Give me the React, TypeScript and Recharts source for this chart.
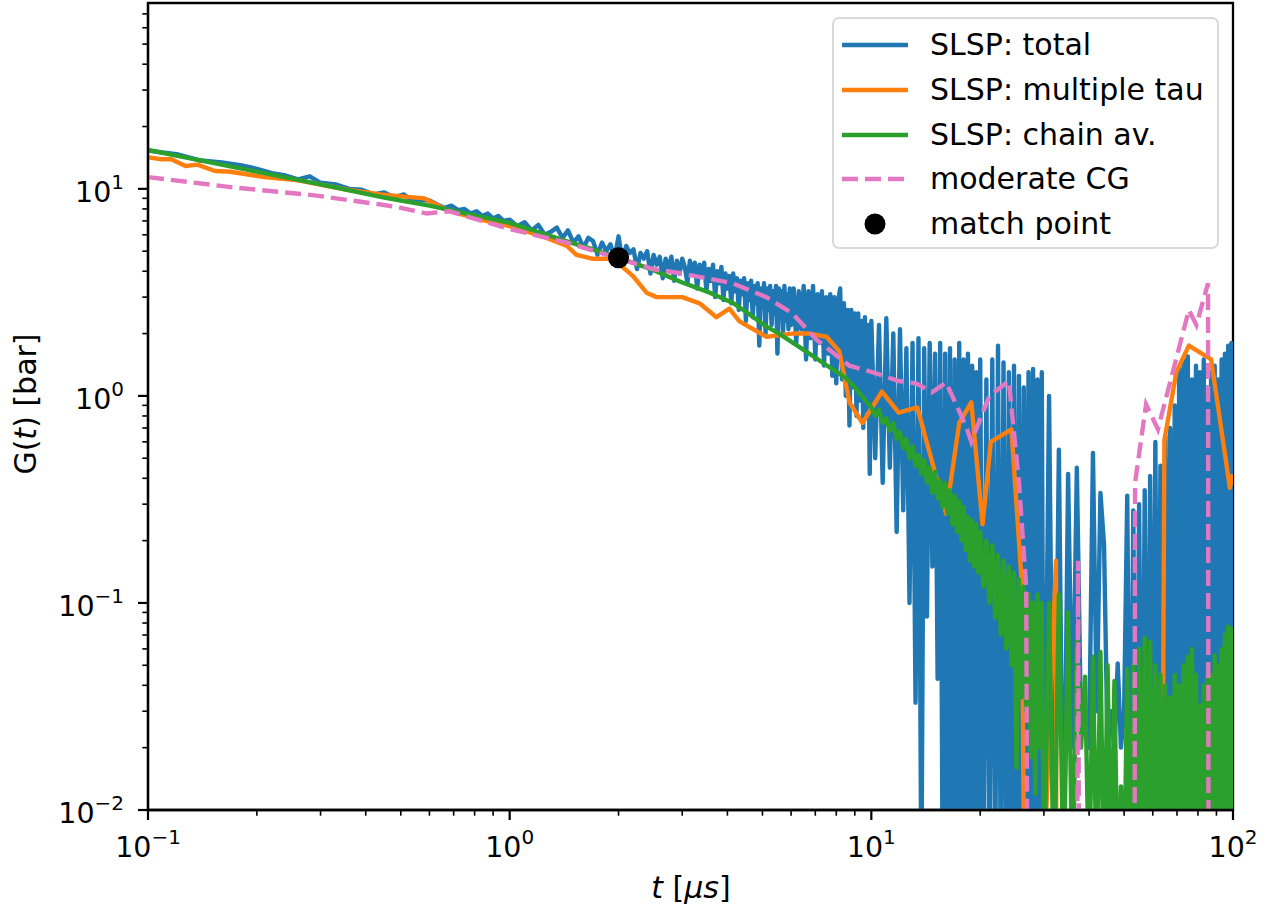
import React from 'react'
import {
  ComposedChart,
  Line,
  Scatter,
  XAxis,
  YAxis,
  Legend,
  ReferenceArea,
} from 'recharts'

// t [us], G(t) [bar] pairs
const slspTotal: [number, number][] = [
  [0.1, 15.3], [0.12, 14.7], [0.14, 13.7], [0.16, 13.4], [0.18, 13.0], [0.2, 12.5], [0.22, 11.9], [0.24, 11.6],
  [0.26, 11.1], [0.28, 11.5], [0.3, 10.7], [0.33, 10.5], [0.36, 10.0], [0.39, 9.9], [0.42, 9.4], [0.45, 9.6],
  [0.48, 9.1], [0.51, 9.4], [0.54, 8.7], [0.57, 8.8], [0.6, 8.8], [0.63, 8.4], [0.66, 8.1], [0.69, 8.3],
  [0.72, 7.9], [0.75, 8.0], [0.78, 7.6], [0.81, 7.8], [0.84, 7.4], [0.87, 7.6], [0.9, 7.2], [0.93, 7.4],
  [0.96, 7.0], [1.0, 7.1],
  [1.05, 6.6], [1.1, 6.9], [1.15, 6.3], [1.2, 6.7], [1.25, 6.0], [1.3, 6.2], [1.35, 6.5], [1.4, 5.8],
  [1.45, 6.3], [1.5, 5.5], [1.55, 5.9], [1.6, 5.2], [1.65, 5.8], [1.7, 5.6], [1.75, 4.8], [1.8, 5.5],
  [1.85, 5.0], [1.9, 5.4], [1.95, 4.6], [2.0, 5.9], [2.05, 4.5], [2.1, 5.3], [2.15, 4.9], [2.2, 5.1],
  [2.25, 4.1], [2.3, 4.9], [2.35, 4.6], [2.4, 5.0], [2.45, 3.9], [2.5, 4.8], [2.55, 4.3], [2.6, 4.7],
  [2.65, 3.7], [2.7, 4.6], [2.75, 4.1], [2.8, 4.7], [2.85, 3.6], [2.9, 4.5], [2.95, 3.9], [3.0, 4.6],
  [3.05, 4.2], [3.1, 3.5], [3.15, 4.5], [3.2, 3.9], [3.25, 4.4], [3.3, 3.3], [3.35, 4.3], [3.4, 3.8],
  [3.45, 4.4], [3.5, 3.2], [3.55, 4.1], [3.6, 3.6], [3.65, 4.3], [3.7, 3.0], [3.75, 4.0], [3.8, 3.5],
  [3.85, 4.2], [3.9, 2.9], [3.95, 3.9], [4.0, 3.3], [4.05, 3.8], [4.1, 2.8], [4.15, 3.9], [4.2, 3.2],
  [4.25, 3.7], [4.3, 2.6], [4.35, 3.6], [4.4, 3.1], [4.45, 3.7], [4.5, 2.3], [4.55, 3.5], [4.6, 2.9],
  [4.65, 3.6], [4.7, 2.4], [4.75, 3.4], [4.8, 2.8], [4.85, 3.5], [4.9, 1.75], [4.95, 3.3], [5.0, 2.7],
  [5.05, 3.5], [5.1, 2.0], [5.15, 3.3], [5.2, 2.6], [5.25, 3.4], [5.3, 2.2], [5.35, 3.2], [5.4, 2.5],
  [5.45, 3.4], [5.5, 1.6], [5.55, 3.3], [5.6, 2.4], [5.65, 3.2], [5.7, 2.0], [5.75, 3.4], [5.8, 2.3],
  [5.85, 3.1], [5.9, 2.1], [5.95, 3.3], [6.0, 2.2],
  [6.1, 3.3], [6.2, 1.8], [6.3, 3.2], [6.4, 2.1], [6.5, 3.4], [6.6, 1.5], [6.7, 3.2], [6.8, 1.9],
  [6.9, 3.4], [7.0, 1.5], [7.1, 3.1], [7.2, 1.8], [7.3, 3.2], [7.4, 1.4], [7.5, 3.0], [7.6, 1.6],
  [7.7, 3.1], [7.8, 1.25], [7.9, 3.0], [8.0, 1.15], [8.1, 2.9], [8.2, 3.3], [8.3, 1.2], [8.4, 2.8],
  [8.5, 1.0], [8.6, 2.6], [8.7, 0.72], [8.8, 2.6], [8.9, 1.1], [9.0, 2.5], [9.1, 0.8], [9.2, 2.5],
  [9.3, 0.95], [9.4, 2.3], [9.5, 0.7], [9.6, 2.4], [9.7, 0.85], [9.8, 2.2], [9.9, 0.42], [10.0, 2.3],
  [10.25, 0.5], [10.5, 2.2], [10.75, 0.38], [11.0, 2.37], [11.25, 0.45], [11.5, 2.0], [11.75, 0.22], [12.0, 2.1],
  [12.25, 0.28], [12.5, 1.7], [12.75, 0.1], [13.0, 1.8], [13.25, 0.033], [13.5, 1.9], [13.75, 0.004], [14.0, 1.7],
  [14.25, 0.086], [14.5, 1.8], [14.75, 0.15], [15.0, 1.6], [15.25, 0.043], [15.5, 1.8], [15.75, 0.004], [16.0, 1.6],
  [16.25, 0.004], [16.5, 1.7], [16.75, 0.004], [17.0, 1.5], [17.25, 0.004], [17.5, 1.8], [17.75, 0.004], [18.0, 1.5],
  [18.25, 0.004], [18.5, 1.6], [18.75, 0.004], [19.0, 1.4], [19.25, 0.004], [19.5, 1.3], [19.75, 0.004], [20.0, 1.5],
  [20.4, 0.004], [20.8, 1.2], [21.2, 0.004], [21.6, 1.5], [22.0, 0.004], [22.4, 1.75], [22.8, 0.004], [23.2, 1.45],
  [23.6, 0.004], [24.0, 1.3], [24.4, 0.004], [24.8, 1.4], [25.2, 0.004], [25.6, 1.25], [26.0, 0.004], [26.4, 1.1],
  [26.8, 0.004], [27.2, 1.3], [27.6, 0.004], [28.0, 1.35], [28.4, 0.004], [28.8, 1.2], [29.2, 0.004], [29.6, 1.3],
  [30.0, 0.004],
  [31, 1.0], [32, 0.004], [33, 0.55], [34, 0.004], [35, 0.42], [36, 0.02], [37, 0.45], [38, 0.025],
  [39, 0.03], [40, 0.02], [41, 0.53], [42, 0.03], [43, 0.34], [44, 0.19], [45, 0.02], [46, 0.03],
  [47, 0.02], [48, 0.051], [49, 0.02], [50, 0.03], [51, 0.33], [52, 0.004], [53, 0.28], [54, 0.004],
  [55, 0.3], [56, 0.004], [57, 0.35], [58, 0.004], [59, 0.41], [60, 0.004], [61, 0.6], [62, 0.004],
  [63, 0.46], [64, 0.004], [65, 0.64], [66, 0.004], [67, 0.7], [68, 0.004], [69, 0.9], [70, 0.004],
  [71, 1.35], [72, 0.004], [73, 1.5], [74, 0.004], [75, 1.55], [76, 0.004], [77, 1.2], [78, 0.004],
  [79, 1.4], [80, 0.004], [81, 1.3], [82, 0.004], [83, 1.5], [84, 0.004], [85, 1.1], [86, 0.004],
  [87, 1.3], [88, 0.004], [89, 1.4], [90, 0.004], [91, 1.2], [92, 0.004], [93, 1.5], [94, 0.004],
  [95, 1.6], [96, 0.004], [97, 1.75], [98, 0.004], [99, 1.8], [100, 0.004],
]

const multipleTau: [number, number][] = [
  [0.1, 14.2], [0.109, 13.9], [0.116, 13.9], [0.127, 12.9], [0.137, 13.1], [0.153, 12.2], [0.169, 12.1],
  [0.21, 11.4], [0.26, 11.0], [0.356, 9.9], [0.44, 9.4], [0.58, 9.0], [0.67, 7.9], [0.83, 7.1], [1.0, 6.6],
  [1.23, 5.9], [1.44, 5.3], [1.53, 4.8], [1.69, 4.6], [1.89, 4.6], [2.05, 4.2], [2.19, 3.8], [2.39, 3.15],
  [2.55, 3.0], [3.0, 3.0], [3.35, 2.8], [3.73, 2.4], [4.05, 2.64], [4.32, 2.29], [5.13, 1.93], [6.05, 2.0],
  [6.75, 2.0], [7.52, 1.93], [8.16, 1.64], [8.7, 0.93], [9.45, 0.74], [10.7, 1.05], [11.9, 0.83], [13.4, 0.88],
  [16.1, 0.27], [17.5, 0.74], [18.9, 0.93], [20.3, 0.24], [21.4, 0.6], [24.4, 0.69], [26.1, 0.12], [26.6, 0.001],
  [30.0, 0.005], [32.4, 0.16], [32.5, 0.001], [63.7, 0.001], [64.1, 0.035], [64.6, 0.61], [69.7, 1.3],
  [75.5, 1.75], [87.0, 1.5], [98.0, 0.36], [100, 0.42],
]

const chainAv: [number, number][] = [
  [0.1, 15.4], [0.15, 13.4], [0.2, 12.1], [0.3, 10.5], [0.45, 9.08], [0.6, 8.3], [0.8, 7.45], [1.0, 6.85],
  [1.2, 6.19], [1.44, 5.58], [1.7, 5.1], [2.0, 4.65], [2.5, 4.05], [3.0, 3.53], [3.5, 3.2], [4.13, 2.82],
  [4.5, 2.55], [5.13, 2.16], [5.5, 2.02], [6.3, 1.73], [7.0, 1.53], [7.5, 1.41], [8.0, 1.31], [8.5, 1.22],
  [9.0, 1.1], [9.4, 1.0], [10.0, 0.88],
  [10.25, 0.8], [10.5, 0.86], [10.75, 0.74], [11.0, 0.78], [11.25, 0.68], [11.5, 0.74], [11.75, 0.62], [12.0, 0.67],
  [12.25, 0.56], [12.5, 0.62], [12.75, 0.5], [13.0, 0.57], [13.25, 0.46], [13.5, 0.52], [13.75, 0.42], [14.0, 0.49],
  [14.25, 0.38], [14.5, 0.45], [14.75, 0.34], [15.0, 0.43], [15.25, 0.32], [15.5, 0.39], [15.75, 0.29], [16.0, 0.38],
  [16.25, 0.27], [16.5, 0.35], [16.75, 0.24], [17.0, 0.33], [17.25, 0.22], [17.5, 0.31], [17.75, 0.2], [18.0, 0.29],
  [18.25, 0.18], [18.5, 0.26], [18.75, 0.16], [19.0, 0.25], [19.25, 0.15], [19.5, 0.24], [19.75, 0.14], [20.0, 0.22],
  [20.4, 0.12], [20.8, 0.2], [21.2, 0.1], [21.6, 0.19], [22.0, 0.085], [22.4, 0.17], [22.8, 0.07], [23.2, 0.16],
  [23.6, 0.06], [24.0, 0.15], [24.4, 0.05], [24.8, 0.14], [25.2, 0.016], [25.6, 0.13], [26.0, 0.035], [26.4, 0.12],
  [26.8, 0.03], [27.2, 0.11], [27.6, 0.018], [28.0, 0.1], [28.4, 0.012], [28.8, 0.11], [29.2, 0.02], [29.6, 0.1],
  [30.0, 0.004],
  [31, 0.1], [32, 0.004], [33, 0.11], [34, 0.004], [35, 0.09], [36, 0.004], [37, 0.066], [38, 0.02],
  [39, 0.044], [40, 0.004], [41, 0.055], [42, 0.004], [43, 0.058], [44, 0.004], [45, 0.05], [46, 0.004],
  [47, 0.042], [48, 0.004], [49, 0.013], [50, 0.004], [51, 0.048], [52, 0.004], [53, 0.05], [54, 0.004],
  [55, 0.06], [56, 0.004], [57, 0.068], [58, 0.004], [59, 0.065], [60, 0.004], [61, 0.05], [62, 0.004],
  [63, 0.045], [64, 0.004], [65, 0.04], [66, 0.004], [67, 0.035], [68, 0.004], [69, 0.045], [70, 0.004],
  [71, 0.04], [72, 0.004], [73, 0.05], [74, 0.004], [75, 0.055], [76, 0.004], [77, 0.06], [78, 0.004],
  [79, 0.045], [80, 0.004], [81, 0.032], [82, 0.004], [83, 0.04], [84, 0.004], [85, 0.05], [86, 0.004],
  [87, 0.045], [88, 0.004], [89, 0.056], [90, 0.004], [91, 0.05], [92, 0.004], [93, 0.06], [94, 0.004],
  [95, 0.07], [96, 0.004], [97, 0.077], [98, 0.004], [99, 0.075], [100, 0.004],
]

const moderateCG: [number, number][] = [
  [0.1, 11.4], [0.169, 10.2], [0.289, 9.3], [0.44, 8.4], [0.5, 8.1], [0.59, 7.6], [0.68, 7.8], [1.0, 6.4],
  [1.44, 5.5], [1.93, 4.7], [2.49, 4.1], [3.0, 3.9], [4.13, 3.5], [5.13, 3.0], [6.05, 2.5], [7.05, 1.87],
  [8.7, 1.4], [10.1, 1.3], [11.9, 1.18], [13.3, 1.15], [14.7, 1.04], [16.1, 1.16], [18.3, 0.71], [18.9, 0.6],
  [21.2, 1.0], [24.0, 1.18], [25.6, 0.38], [26.8, 0.12], [27.1, 0.001], [37.0, 0.001], [37.3, 0.16],
  [37.6, 0.001], [53.4, 0.001], [53.6, 0.38], [57.5, 0.91], [62.0, 0.69], [75.5, 2.6], [79.2, 2.2],
  [85.3, 3.5], [85.6, 0.001], [100, 0.001],
]

const matchPoint: [number, number][] = [[2.0, 4.65]]

const xMajorTicks = [0.1, 1, 10, 100]
const xMinorTicks = [0.2, 0.3, 0.4, 0.5, 0.6, 0.7, 0.8, 0.9, 2, 3, 4, 5, 6, 7, 8, 9, 20, 30, 40, 50, 60, 70, 80, 90]
const yMajorTicks = [0.01, 0.1, 1, 10]
const yMinorTicks = [0.02, 0.03, 0.04, 0.05, 0.06, 0.07, 0.08, 0.09, 0.2, 0.3, 0.4, 0.5, 0.6, 0.7, 0.8, 0.9,
  2, 3, 4, 5, 6, 7, 8, 9, 20, 30, 40, 50, 60, 70]

const legendLabels = ['SLSP: total', 'SLSP: multiple tau', 'SLSP: chain av.', 'moderate CG', 'match point']

const FONT = "'DejaVu Sans', sans-serif"
const BLUE = '#1f77b4'
const ORANGE = '#ff7f0e'
const GREEN = '#2ca02c'
const PINK = '#e377c2'
const LW = 4.4
const DASH = '16 7'

const toRows = (pairs: [number, number][]) => pairs.map(([t, G]) => ({ t, G }))

function PowLabel({ x, y, exp, anchor }: { x: number; y: number; exp: number; anchor: 'middle' | 'end' }) {
  const sup = exp < 0 ? `\u2212${-exp}` : `${exp}`
  return (
    <text x={x} y={y} textAnchor={anchor} fontFamily={FONT} fontSize={28.5} fill="#000">
      <tspan>10</tspan>
      <tspan dy={-13} fontSize={20}>{sup}</tspan>
    </text>
  )
}

function XTick(props: any) {
  const { x, y, payload } = props
  const v = payload.value as number
  const major = xMajorTicks.includes(v)
  return (
    <g>
      <line x1={x} x2={x} y1={y} y2={y + (major ? 10 : 5.7)} stroke="#000" strokeWidth={major ? 2.2 : 1.6} />
      {major && <PowLabel x={x} y={y + 47} exp={Math.round(Math.log10(v))} anchor="middle" />}
    </g>
  )
}

function YTick(props: any) {
  const { x, y, payload } = props
  const v = payload.value as number
  const major = yMajorTicks.includes(v)
  return (
    <g>
      <line x1={x - (major ? 10 : 5.7)} x2={x} y1={y} y2={y} stroke="#000" strokeWidth={major ? 2.2 : 1.6} />
      {major && <PowLabel x={x - 24} y={y + 13} exp={Math.round(Math.log10(v))} anchor="end" />}
    </g>
  )
}

function XTitle() {
  return (
    <text x={691} y={898} textAnchor="middle" fontFamily={FONT} fontSize={30} fill="#000">
      <tspan fontStyle="italic">t</tspan>
      <tspan> [</tspan>
      <tspan fontStyle="italic">{'\u03bcs'}</tspan>
      <tspan>]</tspan>
    </text>
  )
}

function YTitle() {
  return (
    <text
      x={36}
      y={404}
      transform="rotate(-90 36 404)"
      textAnchor="middle"
      fontFamily={FONT}
      fontSize={30}
      fill="#000"
    >
      <tspan>G(</tspan>
      <tspan fontStyle="italic">t</tspan>
      <tspan>) [bar]</tspan>
    </text>
  )
}

function LegendHandle({ index }: { index: number }) {
  if (index === 4) {
    return (
      <svg width={66} height={24}>
        <circle cx={33} cy={12} r={10.5} fill="#000" />
      </svg>
    )
  }
  const color = [BLUE, ORANGE, GREEN, PINK][index]
  return (
    <svg width={66} height={24}>
      <line
        x1={0}
        x2={66}
        y1={12}
        y2={12}
        stroke={color}
        strokeWidth={LW}
        strokeDasharray={index === 3 ? DASH : undefined}
      />
    </svg>
  )
}

function LegendBox() {
  return (
    <div
      style={{
        width: 387,
        height: 232,
        boxSizing: 'border-box',
        border: '2px solid #d9d9d9',
        borderRadius: 7,
        background: '#fff',
        paddingTop: 4,
        fontFamily: FONT,
        fontSize: 30,
        color: '#000',
      }}
    >
      {legendLabels.map((label, i) => (
        <div key={label} style={{ display: 'flex', alignItems: 'center', height: 44.7 }}>
          <div style={{ marginLeft: 8, width: 66, height: 24, lineHeight: 0 }}>
            <LegendHandle index={i} />
          </div>
          <span style={{ marginLeft: 22, whiteSpace: 'nowrap', lineHeight: '34px' }}>{label}</span>
        </div>
      ))}
    </div>
  )
}

export default function App() {
  return (
    <div style={{ width: 1273, height: 911, position: 'relative', background: '#fff' }}>
      <style>{'body { margin: 0; background: #fff; }'}</style>
      <ComposedChart width={1273} height={911} margin={{ top: 3, right: 40, bottom: 0, left: 0 }}>
        <XAxis
          dataKey="t"
          type="number"
          scale="log"
          domain={[0.1, 100]}
          allowDataOverflow
          ticks={[...xMajorTicks, ...xMinorTicks]}
          interval={0}
          tick={XTick}
          tickLine={false}
          tickSize={0}
          tickMargin={0}
          height={101}
          axisLine={{ stroke: '#000', strokeWidth: 2.3 }}
          label={<XTitle />}
        />
        <YAxis
          dataKey="G"
          type="number"
          scale="log"
          domain={[0.01, 79]}
          allowDataOverflow
          ticks={[...yMajorTicks, ...yMinorTicks]}
          interval={0}
          tick={YTick}
          tickLine={false}
          tickSize={0}
          tickMargin={0}
          width={148}
          axisLine={{ stroke: '#000', strokeWidth: 2.3 }}
          label={<YTitle />}
        />
        <Line
          data={toRows(slspTotal)}
          dataKey="G"
          type="linear"
          stroke={BLUE}
          strokeWidth={LW}
          strokeLinejoin="round"
          dot={false}
          isAnimationActive={false}
        />
        <Line
          data={toRows(multipleTau)}
          dataKey="G"
          type="linear"
          stroke={ORANGE}
          strokeWidth={LW}
          strokeLinejoin="round"
          dot={false}
          isAnimationActive={false}
        />
        <Line
          data={toRows(chainAv)}
          dataKey="G"
          type="linear"
          stroke={GREEN}
          strokeWidth={LW}
          strokeLinejoin="round"
          dot={false}
          isAnimationActive={false}
        />
        <Line
          data={toRows(moderateCG)}
          dataKey="G"
          type="linear"
          stroke={PINK}
          strokeWidth={LW}
          strokeDasharray={DASH}
          dot={false}
          isAnimationActive={false}
        />
        <Scatter
          data={toRows(matchPoint)}
          dataKey="G"
          isAnimationActive={false}
          shape={(p: any) => <circle cx={p.cx} cy={p.cy} r={10.5} fill="#000" />}
        />
        <ReferenceArea x1={0.1} x2={100} y1={0.01} y2={79} fill="none" stroke="#000" strokeWidth={2.3} />
        <Legend
          layout="horizontal"
          verticalAlign="middle"
          align="center"
          content={() => <LegendBox />}
          wrapperStyle={{ position: 'absolute', left: 832, top: 17, width: 387, height: 232 }}
        />
      </ComposedChart>
    </div>
  )
}
